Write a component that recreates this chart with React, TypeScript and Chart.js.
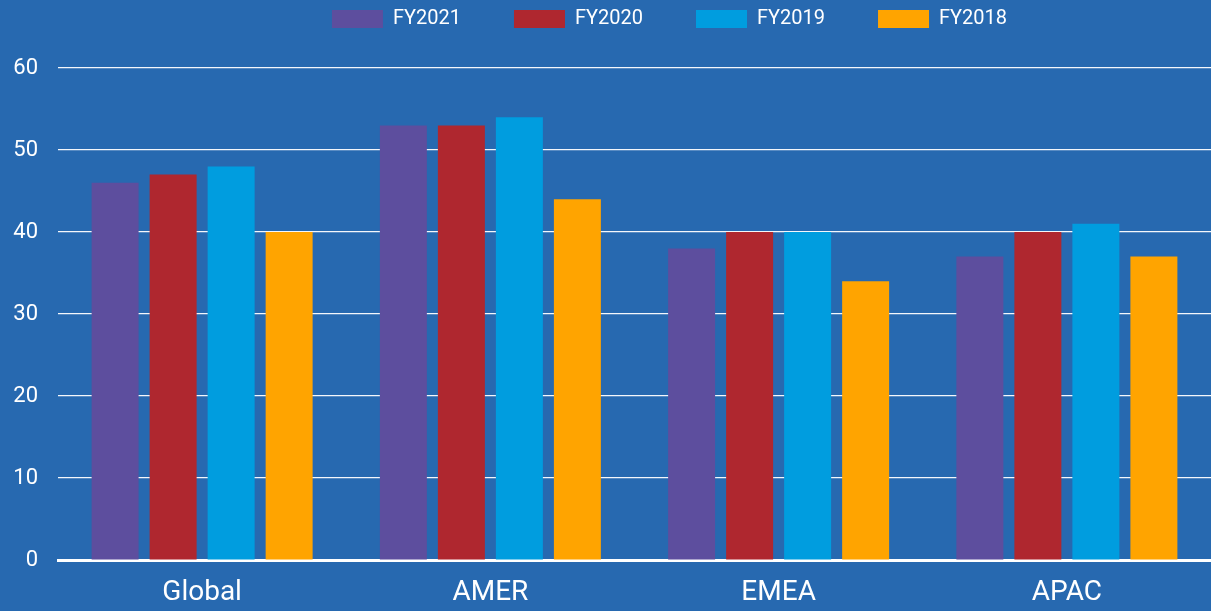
import React, { useEffect, useRef } from "react";
import { Chart, registerables } from "chart.js";

Chart.register(...registerables);

const categories = ["Global", "AMER", "EMEA", "APAC"];
const seriesNames = ["FY2021", "FY2020", "FY2019", "FY2018"];
const fy2021 = [46, 53, 38, 37];
const fy2020 = [47, 53, 40, 40];
const fy2019 = [48, 54, 40, 41];
const fy2018 = [40, 44, 34, 37];
const seriesColors = ["#5d4e9e", "#af272f", "#009ddf", "#ffa400"];
const yTicks = [0, 10, 20, 30, 40, 50, 60];

const BG = "#2769b0";
const FONT = "Roboto, 'DejaVu Sans', sans-serif";

export default function App() {
  const ref = useRef<HTMLCanvasElement | null>(null);

  useEffect(() => {
    if (!ref.current) return;
    const values = [fy2021, fy2020, fy2019, fy2018];

    const legendTweak = {
      id: "legendTweak",
      beforeInit(chart: any) {
        const legend = chart.legend;
        if (!legend) return;
        const origFit = legend.fit;
        legend.fit = function () {
          origFit.bind(legend)();
          this.height = 68;
        };
      },
      afterLayout(chart: any) {
        const legend = chart.legend;
        if (!legend) return;
        legend.left += 64;
        legend.right += 64;
        legend.top -= 44;
      },
    };

    const chart = new Chart(ref.current, {
      type: "bar",
      data: {
        labels: categories,
        datasets: seriesNames.map((name, i) => ({
          label: name,
          data: values[i],
          backgroundColor: seriesColors[i],
          borderWidth: 0,
          categoryPercentage: 0.805,
          barPercentage: 0.81,
        })),
      },
      plugins: [legendTweak],
      options: {
        responsive: true,
        maintainAspectRatio: false,
        animation: false,
        layout: { padding: { left: 0, right: 0, top: 0, bottom: 0 } },
        plugins: {
          legend: {
            display: true,
            position: "top",
            labels: {
              color: "#ffffff",
              boxWidth: 51,
              boxHeight: 18,
              padding: 53,
              font: { family: FONT, size: 20 },
            },
          },
          tooltip: { enabled: false },
        },
        scales: {
          x: {
            afterFit(scale: any) {
              scale.height = 51;
            },
            grid: { display: false, drawTicks: false },
            border: { display: true, color: "#ffffff", width: 3 },
            ticks: {
              color: "#ffffff",
              padding: 16,
              font: { family: FONT, size: 28 },
            },
          },
          y: {
            min: 0,
            max: 60,
            afterFit(scale: any) {
              scale.width = 58;
            },
            afterBuildTicks(scale: any) {
              scale.ticks = yTicks.map((v) => ({ value: v }));
            },
            grid: {
              color: "rgba(255,255,255,0.95)",
              lineWidth: 1.2,
              drawTicks: false,
            },
            border: { display: false },
            ticks: {
              color: "#ffffff",
              padding: 20,
              font: { family: FONT, size: 22 },
            },
          },
        },
      },
    });

    return () => chart.destroy();
  }, []);

  return (
    <div
      style={{
        position: "fixed",
        left: 0,
        top: 0,
        width: 1211,
        height: 611,
        background: BG,
      }}
    >
      <canvas ref={ref} />
    </div>
  );
}
